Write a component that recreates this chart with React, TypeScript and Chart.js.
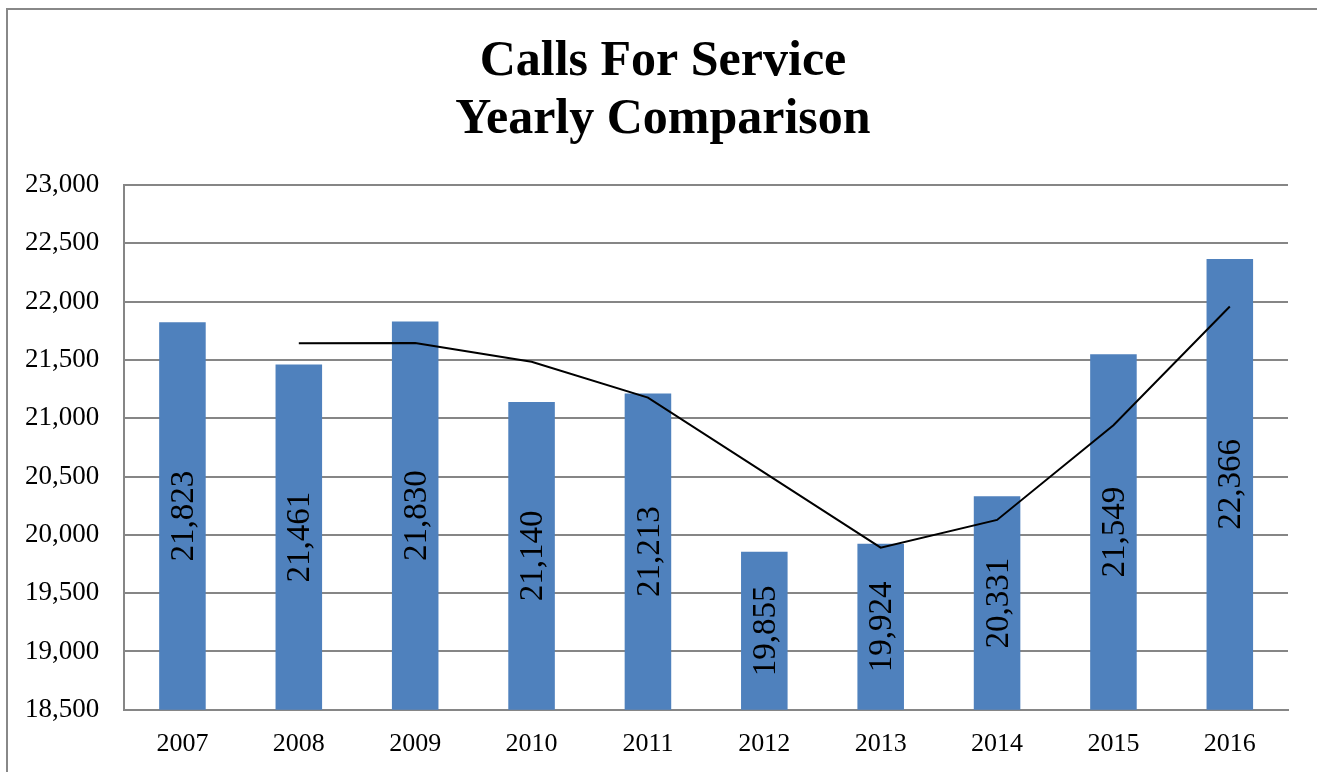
import React, { useEffect, useRef } from "react";
import { Chart, registerables } from "chart.js";

Chart.register(...registerables);

const years = ["2007", "2008", "2009", "2010", "2011", "2012", "2013", "2014", "2015", "2016"];
const calls = [21823, 21461, 21830, 21140, 21213, 19855, 19924, 20331, 21549, 22366];
const trend = [null, 21642, 21646, 21485, 21177, 20534, 19890, 20128, 20940, 21958];
const titleLines = ["Calls For Service", "Yearly Comparison"];
const yMin = 18500;
const yMax = 23000;
const yStep = 500;

const fmt = (v: number) => v.toLocaleString("en-US");

const titleDraw = {
  id: "titleDraw",
  afterDraw(chart: any) {
    const ctx = chart.ctx;
    ctx.save();
    ctx.font = "bold 50px 'Liberation Serif', serif";
    ctx.fillStyle = "#000000";
    ctx.textAlign = "center";
    ctx.textBaseline = "middle";
    ctx.fillText(titleLines[0], 655, 52);
    ctx.fillText(titleLines[1], 655, 110);
    ctx.restore();
  },
};

const barLabels = {
  id: "barLabels",
  afterDraw(chart: any) {
    const ctx = chart.ctx;
    const xs = chart.scales.x;
    const ys = chart.scales.y;
    const base = ys.getPixelForValue(yMin);
    ctx.save();
    ctx.font = "33px 'Liberation Serif', serif";
    ctx.fillStyle = "#000000";
    ctx.textAlign = "center";
    ctx.textBaseline = "middle";
    for (let i = 0; i < calls.length; i++) {
      const x = xs.getPixelForValue(i);
      const top = ys.getPixelForValue(calls[i]);
      const cy = (top + base) / 2;
      ctx.save();
      ctx.translate(x + 2, cy);
      ctx.rotate(-Math.PI / 2);
      ctx.fillText(fmt(calls[i]), 0, 0);
      ctx.restore();
    }
    ctx.restore();
  },
};

export default function App() {
  const ref = useRef<HTMLCanvasElement | null>(null);
  useEffect(() => {
    if (!ref.current) return;
    const chart = new Chart(ref.current, {
      type: "bar",
      data: {
        labels: years,
        datasets: [
          {
            type: "bar",
            data: calls,
            backgroundColor: "#4F81BD",
            barPercentage: 0.4,
            categoryPercentage: 1,
            order: 2,
          },
          {
            type: "line",
            data: trend as any,
            borderColor: "#000",
            borderWidth: 2,
            pointRadius: 0,
            tension: 0,
            order: 1,
          } as any,
        ],
      },
      options: {
        animation: false,
        responsive: true,
        maintainAspectRatio: false,
        layout: { padding: { left: -8, right: 40, top: 175, bottom: 21 } },
        plugins: {
          legend: { display: false },
          tooltip: { enabled: false },
          title: { display: false },
        },
        scales: {
          x: {
            grid: { display: false, drawTicks: false },
            border: { color: "#868686", width: 2 },
            ticks: {
              color: "#000",
              font: { family: "'Liberation Serif'", size: 26 },
              padding: 19,
            },
          },
          y: {
            min: yMin,
            max: yMax,
            grid: { color: "#868686", lineWidth: 2, drawTicks: false },
            border: { color: "#868686", width: 2 },
            ticks: {
              stepSize: yStep,
              color: "#000",
              font: { family: "'Liberation Serif'", size: 27 },
              padding: 25,
              callback: (v: any) => fmt(Number(v)),
            },
          },
        },
      },
      plugins: [barLabels, titleDraw],
    });
    return () => chart.destroy();
  }, []);
  return (
    <div
      style={{
        position: "absolute",
        left: 6,
        top: 8,
        width: 1320,
        height: 790,
        border: "2px solid #888",
        background: "#fff",
      }}
    >
      <canvas ref={ref} />
    </div>
  );
}
